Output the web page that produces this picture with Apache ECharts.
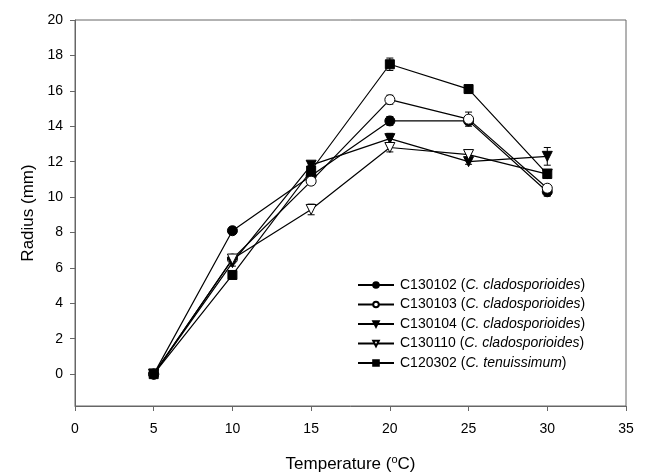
<!DOCTYPE html>
<html>
<head>
<meta charset="utf-8">
<script src="https://cdn.jsdelivr.net/npm/echarts@6/dist/echarts.min.js"></script>
<style>
  html, body { margin: 0; padding: 0; background: #fff; }
  #chart { width: 647px; height: 473px; }
</style>
</head>
<body>
<div id="chart"></div>
<script>
// temperature (°C) and mean radius (mm) with error
const temps = [5, 10, 15, 20, 25, 30]
const yTicks = [0, 2, 4, 6, 8, 10, 12, 14, 16, 18, 20]

const c130102 = [0, 8.1, 11.2, 14.3, 14.3, 10.3]
const c130102Err = [0.1, 0.2, 0.25, 0.25, 0.2, 0.25]
const c130103 = [0, 6.5, 10.9, 15.5, 14.4, 10.5]
const c130103Err = [0.1, 0.2, 0.2, 0.25, 0.4, 0.2]
const c130104 = [0, 6.3, 11.8, 13.3, 12.0, 12.3]
const c130104Err = [0.1, 0.2, 0.2, 0.3, 0.15, 0.5]
const c130110 = [0, 6.5, 9.3, 12.8, 12.4, 11.3]
const c130110Err = [0.1, 0.2, 0.3, 0.25, 0.15, 0.2]
const c120302 = [0, 5.6, 11.5, 17.5, 16.1, 11.3]
const c120302Err = [0.1, 0.15, 0.3, 0.35, 0.2, 0.2]

const strains = [
  { name: 'C130102', species: 'C. cladosporioides', data: c130102, err: c130102Err, symbol: 'circle', size: 10, fill: '#000', rotate: 0 },
  { name: 'C130103', species: 'C. cladosporioides', data: c130103, err: c130103Err, symbol: 'circle', size: 10, fill: '#fff', rotate: 0 },
  { name: 'C130104', species: 'C. cladosporioides', data: c130104, err: c130104Err, symbol: 'triangle', size: 10, fill: '#000', rotate: 180 },
  { name: 'C130110', species: 'C. cladosporioides', data: c130110, err: c130110Err, symbol: 'triangle', size: 10, fill: '#fff', rotate: 180 },
  { name: 'C120302', species: 'C. tenuissimum', data: c120302, err: c120302Err, symbol: 'rect', size: 9, fill: '#000', rotate: 0 }
]

const chart = echarts.init(document.getElementById('chart'))

const errorSeries = strains.map(s => ({
  type: 'custom',
  name: s.name + ' err',
  z: 1,
  silent: true,
  data: temps.map((t, i) => [t, s.data[i] - s.err[i], s.data[i] + s.err[i]]),
  renderItem: (params, api) => {
    const lo = api.coord([api.value(0), api.value(1)])
    const hi = api.coord([api.value(0), api.value(2)])
    const w = 3.5
    const style = { stroke: '#000', lineWidth: 1 }
    return {
      type: 'group',
      children: [
        { type: 'line', shape: { x1: lo[0], y1: lo[1], x2: hi[0], y2: hi[1] }, style },
        { type: 'line', shape: { x1: lo[0] - w, y1: lo[1], x2: lo[0] + w, y2: lo[1] }, style },
        { type: 'line', shape: { x1: hi[0] - w, y1: hi[1], x2: hi[0] + w, y2: hi[1] }, style }
      ]
    }
  }
}))

const lineSeries = strains.map(s => ({
  type: 'line',
  name: s.name,
  z: 3,
  data: temps.map((t, i) => [t, s.data[i]]),
  symbol: s.symbol,
  symbolSize: s.size,
  symbolRotate: s.rotate,
  showAllSymbol: true,
  lineStyle: { color: '#000', width: 1.2 },
  itemStyle: { color: s.fill, borderColor: '#000', borderWidth: 1 },
  emphasis: { disabled: true }
}))

const option = {
  animation: false,
  backgroundColor: '#fff',
  textStyle: { fontFamily: 'Liberation Sans, Arial, sans-serif' },
  grid: {
    left: 75, right: 21, top: 20, bottom: 67,
    outerBoundsMode: 'none',
    show: true, borderColor: '#666', borderWidth: 1
  },
  legend: {
    data: strains.map(s => s.name),
    orient: 'vertical',
    left: 352,
    top: 273,
    itemWidth: 36,
    itemHeight: 7,
    itemGap: 5.5,
    formatter: name => {
      const s = strains.find(x => x.name === name)
      return `{n|${s.name} (}{i|${s.species}}{n|)}`
    },
    textStyle: {
      padding: [0, 0, 0, 1],
      rich: {
        n: { fontSize: 14, color: '#000', fontFamily: 'Liberation Sans, Arial, sans-serif' },
        i: { fontSize: 14, color: '#000', fontStyle: 'italic', fontFamily: 'Liberation Sans, Arial, sans-serif' }
      }
    }
  },
  xAxis: {
    type: 'value',
    min: 0,
    max: 35,
    interval: 5,
    name: 'Temperature ({sup|o}C)',
    nameLocation: 'middle',
    nameGap: 48,
    nameTextStyle: {
      fontSize: 17,
      color: '#000',
      rich: {
        sup: { fontSize: 11, color: '#000', padding: [0, 0, 9, 0] }
      }
    },
    axisLine: { show: true, onZero: false, lineStyle: { color: '#666', width: 1 } },
    axisTick: { show: true, inside: false, length: 5, lineStyle: { color: '#666' } },
    axisLabel: { fontSize: 14, color: '#000', margin: 16 },
    splitLine: { show: false }
  },
  yAxis: {
    type: 'value',
    min: -1.8,
    max: 20,
    name: 'Radius (mm)',
    nameLocation: 'middle',
    nameGap: 34,
    nameTextStyle: { fontSize: 17, color: '#000' },
    axisLine: { show: true, onZero: false, lineStyle: { color: '#666', width: 1 } },
    axisTick: { show: true, inside: false, length: 5, customValues: yTicks, lineStyle: { color: '#666' } },
    axisLabel: { fontSize: 14, color: '#000', margin: 12, customValues: yTicks },
    splitLine: { show: false }
  },
  series: [...errorSeries, ...lineSeries]
}

chart.setOption(option)
</script>
</body>
</html>
